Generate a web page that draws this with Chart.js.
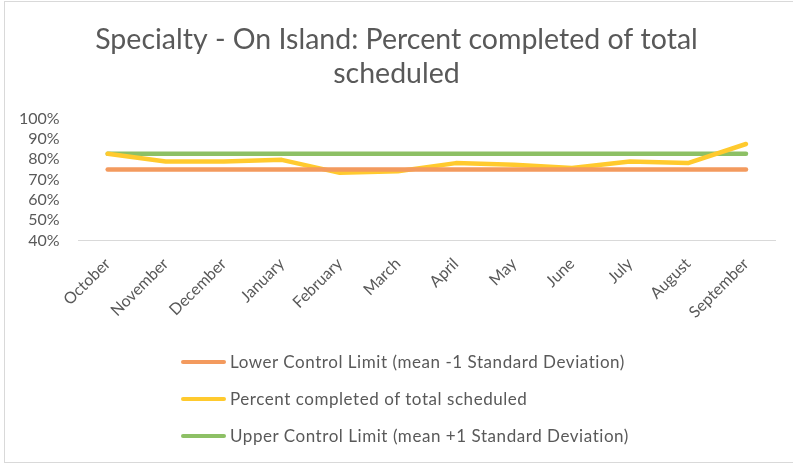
<!DOCTYPE html>
<html>
<head>
<meta charset="utf-8">
<script src="https://cdn.jsdelivr.net/npm/chart.js@4"></script>
<style>
  html, body { margin: 0; padding: 0; background: #fff; }
  #wrap { position: relative; width: 793px; height: 466px; overflow: hidden; font-family: Lato, "Open Sans", sans-serif; }
  #frame { position: absolute; left: 4px; top: 1px; width: 800px; height: 462px; border: 1px solid #d9d9d9; box-sizing: border-box; }
  #chart { position: absolute; left: 0; top: 0; }
  #legend { position: absolute; left: 181px; top: 343px; color: #595959; font-size: 17px; letter-spacing: 0.55px; }
  .item { display: flex; align-items: center; height: 37px; }
  .swatch { width: 45px; height: 4px; border-radius: 2px; margin-right: 4px; }
</style>
</head>
<body>
<div id="wrap">
  <div id="frame"></div>
  <canvas id="chart" width="793" height="466"></canvas>
  <div id="legend"></div>
</div>
<script>
// data
const months = ['October','November','December','January','February','March','April','May','June','July','August','September'];
const lowerLimit = [74.8,74.8,74.8,74.8,74.8,74.8,74.8,74.8,74.8,74.8,74.8,74.8];
const percentCompleted = [82.6,78.8,78.8,79.6,73.2,74.0,78.0,77.2,75.6,78.8,78.0,87.4];
const upperLimit = [82.6,82.6,82.6,82.6,82.6,82.6,82.6,82.6,82.6,82.6,82.6,82.6];
const yTicks = [40, 50, 60, 70, 80, 90, 100];

const series = [
  { label: 'Lower Control Limit (mean -1 Standard Deviation)', data: lowerLimit, color: '#f39a5e' },
  { label: 'Percent completed of total scheduled', data: percentCompleted, color: '#ffca2e' },
  { label: 'Upper Control Limit (mean +1 Standard Deviation)', data: upperLimit, color: '#8dc065' }
];

document.addEventListener('DOMContentLoaded', () => {
  const ctx = document.getElementById('chart').getContext('2d');
  new Chart(ctx, {
    type: 'line',
    data: {
      labels: months,
      datasets: series.map(s => ({
        label: s.label,
        data: s.data,
        borderColor: s.color,
        backgroundColor: s.color,
        borderWidth: 4.5,
        borderCapStyle: 'round',
        borderJoinStyle: 'round',
        pointRadius: 0,
        tension: 0
      }))
    },
    options: {
      responsive: false,
      animation: false,
      layout: { padding: { left: 0, right: 0, top: 6, bottom: 130 } },
      scales: {
        x: {
          offset: true,
          grid: { display: false, drawTicks: false },
          border: { color: '#d9d9d9', width: 1 },
          ticks: { color: '#595959', font: { family: 'Lato', size: 16 }, minRotation: 45, maxRotation: 45, padding: 14 }
        },
        y: {
          min: 40,
          max: 100,
          afterBuildTicks: axis => { axis.ticks = yTicks.map(v => ({ value: v })); },
          grid: { display: false, drawTicks: false },
          border: { display: false },
          ticks: { color: '#595959', font: { family: 'Lato', size: 16 }, padding: 19, autoSkip: false, callback: v => v + '%' }
        },
        // empty right-hand spacer so the title stays centred on the whole canvas
        spacer: {
          type: 'linear',
          position: 'right',
          grid: { display: false, drawTicks: false },
          border: { display: false },
          ticks: { display: false },
          afterFit: s => { s.width = 18; }
        }
      },
      plugins: {
        legend: { display: false },
        tooltip: { enabled: false },
        title: {
          display: true,
          text: ['Specialty - On Island: Percent completed of total', 'scheduled'],
          color: '#595959',
          font: { family: 'Lato', size: 28.5, weight: 'normal', lineHeight: 1.2 },
          padding: { top: 17, bottom: 27 }
        }
      }
    }
  });

  // legend as a plain vertical list, like the reference
  const legend = document.getElementById('legend');
  series.forEach(s => {
    const row = document.createElement('div');
    row.className = 'item';
    row.innerHTML = '<span class="swatch" style="background:' + s.color + '"></span><span>' + s.label + '</span>';
    legend.appendChild(row);
  });
});
</script>
</body>
</html>
